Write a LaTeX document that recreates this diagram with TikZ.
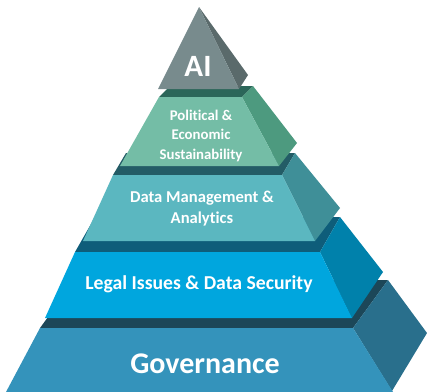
\documentclass[tikz,border=0pt]{standalone}
\usepackage{fontspec}
\setmainfont{Carlito}[Ligatures=NoCommon]
\usetikzlibrary{positioning}

\definecolor{aifront}{HTML}{788B8D}
\definecolor{aiside}{HTML}{5A6A6B}
\definecolor{polfront}{HTML}{74BDA6}
\definecolor{polside}{HTML}{4D9A7F}
\definecolor{poltop}{HTML}{2B6659}
\definecolor{datfront}{HTML}{5BB7C0}
\definecolor{datside}{HTML}{3F8F98}
\definecolor{dattop}{HTML}{235C66}
\definecolor{legfront}{HTML}{00A6DE}
\definecolor{legside}{HTML}{0081AB}
\definecolor{legtop}{HTML}{0E5D7A}
\definecolor{govfront}{HTML}{3493BB}
\definecolor{govside}{HTML}{296F8C}
\definecolor{govtop}{HTML}{1C4758}

\begin{document}
\begin{tikzpicture}[x=1pt,y=-1pt,
  capa/.style={text=white,font=\bfseries,align=center,inner sep=0pt}
  ]
  \useasboundingbox (0,0) rectangle (427,391);

  % Governance
  \fill[govtop] (40,328) -- (75,280) -- (388,280) -- (353,328) -- cycle;
  \fill[govside] (353,328) -- (388,280) -- (427,333) -- (392,391) -- cycle;
  \fill[govfront] (40,328) -- (353,328) -- (393,392) -- (6,392) -- cycle;

  % Legal issues
  \fill[legtop] (75,252) -- (95,217) -- (340,217) -- (320,252) -- cycle;
  \fill[legside] (320,252) -- (340,217) -- (383,272) -- (352,318) -- cycle;
  \fill[legfront] (75,252) -- (320,252) -- (352,318) -- (45,318) -- cycle;

  % Data management
  \fill[dattop] (113,175) -- (126,153) -- (295,153) -- (282,175) -- cycle;
  \fill[datside] (282,175) -- (295,153) -- (340,208) -- (315,241) -- cycle;
  \fill[datfront] (113,175) -- (282,175) -- (315,241) -- (83,241) -- cycle;

  % Political
  \fill[poltop] (159,97) -- (170,86) -- (253,86) -- (242,97) -- cycle;
  \fill[polside] (242,97) -- (253,86) -- (297,143) -- (279,166) -- cycle;
  \fill[polfront] (159,97) -- (242,97) -- (279,166) -- (120,166) -- cycle;

  % AI
  \fill[aiside] (199,7) -- (248,75) -- (239,89) -- cycle;
  \fill[aifront] (199,7) -- (239,89) -- (158,89) -- cycle;

  \node[capa,anchor=base,font=\fontsize{31}{31}\selectfont\bfseries] (ai) at (198,76) {AI};
  \node[capa,font=\fontsize{14.8}{19.5}\selectfont\bfseries] (pol) at (201,135.5)
    {Political \&\\Economic\\Sustainability};
  \node[capa,font=\fontsize{16.6}{21}\selectfont\bfseries] (dat) at (202,209)
    {Data Management \&\\Analytics};
  \node[capa,anchor=base,font=\fontsize{19.7}{23}\selectfont\bfseries] (leg) at (199,289)
    {Legal Issues \& Data Security};
  \node[capa,anchor=base,font=\fontsize{30}{30}\selectfont\bfseries] (gov) at (205,373)
    {Governance};

\end{tikzpicture}
\end{document}
